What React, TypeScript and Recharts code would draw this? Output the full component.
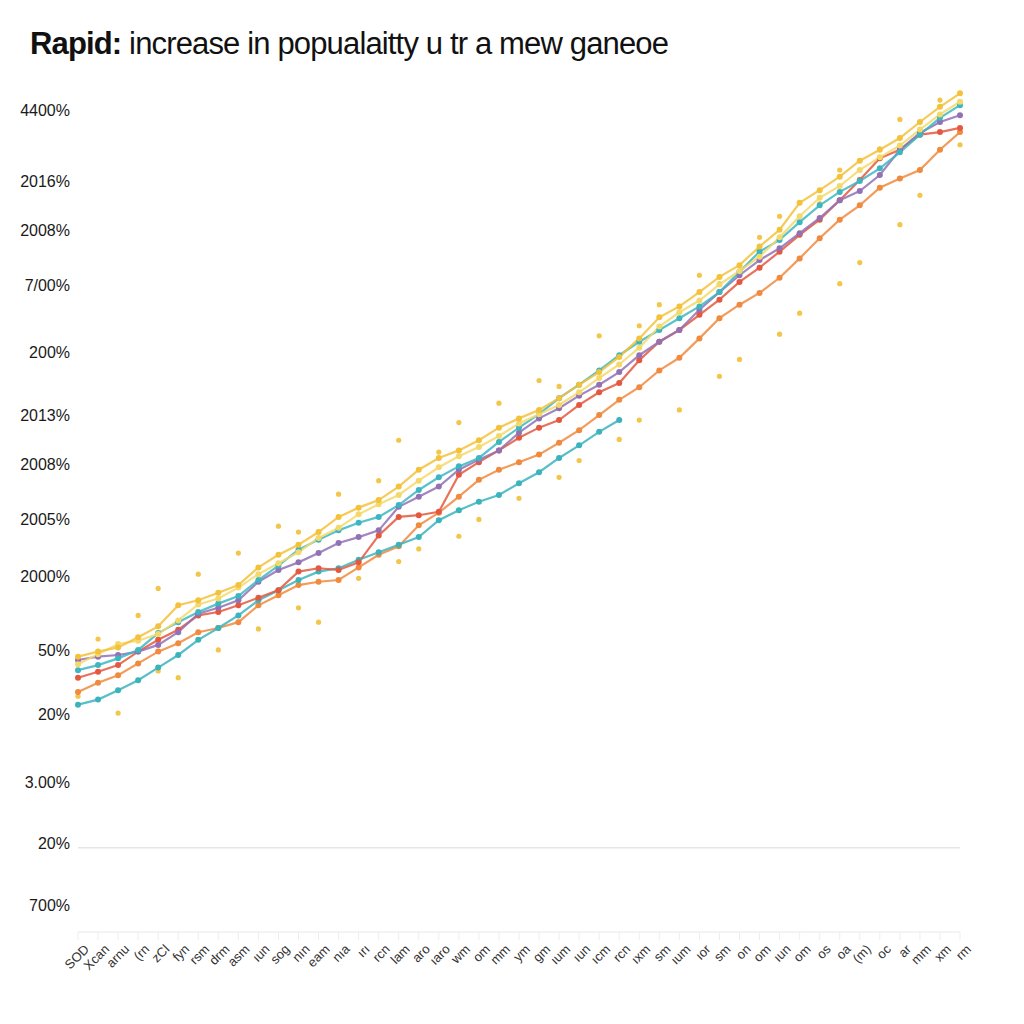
import React from "react";
import { LineChart, Line, XAxis, YAxis, ReferenceLine } from "recharts";

const titleBold = "Rapid:";
const titleRest = " increase in popualaitty u tr a mew ganeoe";

const xLabels = ["SOD","Xcan","arnu","(rn","zCl","fyn","rsm","drm","asm","ıun","sog","nın","eam","nıa","ırı","rcn","lam","aro","ıaro","wm","om","mm","ym","gm","ıum","ıun","ıcm","rcn","ıxm","sm","ıum","ıor","sm","on","om","ıun","om","os","oa","(m)","oc","ar","mm","xm","rm"];

const yTickValues = [97.6, 89.2, 83.3, 76.8, 68.9, 61.4, 55.5, 49.0, 42.3, 33.4, 25.8, 17.8, 10.5, 3.2];
const yTickLabels = ["4400%","2016%","2008%","7/00%","200%","2013%","2008%","2005%","2000%","50%","20%","3.00%","20%","700%"];

const gold = [32.7,33.3,33.8,35.0,36.3,38.8,39.4,40.3,41.2,43.3,44.8,46.0,47.5,49.3,50.4,51.3,52.9,54.9,56.3,57.2,58.4,59.9,61.0,62.0,63.4,65.0,66.5,68.3,70.5,73.0,74.3,76.0,77.8,79.2,81.4,83.4,86.6,88.1,89.7,91.6,92.9,94.3,96.2,98.0,99.6];
const paleYellow = [31.8,33.0,34.2,34.6,35.4,37.0,38.9,39.6,40.9,42.5,43.8,45.1,46.8,48.0,49.6,50.8,51.9,53.6,55.2,56.5,57.6,58.9,60.4,61.5,62.6,64.1,65.8,67.4,69.4,71.9,73.6,75.0,76.9,78.5,80.2,82.5,85.0,87.2,88.6,90.5,92.0,93.4,95.3,97.1,98.6];
const teal = [31.1,31.7,32.5,33.5,35.5,36.8,38.0,39.0,39.9,41.8,43.5,45.4,46.6,47.7,48.6,49.3,50.7,52.5,54.0,55.3,56.3,58.2,59.9,61.5,63.4,65.0,66.7,68.5,70.1,71.5,72.9,74.3,76.0,78.4,80.8,82.2,84.3,86.3,87.9,89.2,90.7,92.6,94.7,96.7,98.2];
const purple = [32.3,32.7,32.9,33.3,34.1,35.6,37.8,38.5,39.4,41.6,43.0,43.9,45.0,46.2,46.9,47.7,50.5,51.7,52.9,54.9,56.1,57.2,59.3,61.0,62.2,63.7,65.0,66.5,68.5,70.1,71.5,73.9,76.0,78.0,79.8,81.2,83.0,84.8,86.9,88.0,89.9,92.9,94.9,96.2,97.0];
const red = [30.2,30.9,31.7,33.3,34.7,35.9,37.6,38.0,38.8,39.7,40.6,42.8,43.2,43.0,43.9,47.1,49.3,49.5,49.9,54.3,55.8,57.2,58.7,59.9,60.8,62.6,64.1,65.2,67.9,70.1,71.5,73.3,75.1,77.2,78.9,80.8,82.8,84.6,86.9,89.3,91.9,92.9,94.7,95.0,95.5];
const orange = [28.5,29.6,30.5,31.9,33.3,34.3,35.6,36.1,36.8,38.8,40.0,41.2,41.6,41.8,43.3,44.8,45.8,48.3,49.8,51.7,53.7,54.9,55.8,56.7,58.1,59.6,61.4,63.2,64.7,66.7,68.2,70.5,72.9,74.5,75.9,77.7,80.0,82.4,84.6,86.3,88.4,89.5,90.5,92.9,95.0];
const teal2 = [27.0,27.6,28.7,29.9,31.4,32.9,34.7,36.1,37.6,39.4,40.6,41.8,42.8,43.2,44.2,45.1,46.0,46.9,48.9,50.1,51.1,51.9,53.3,54.6,56.3,57.8,59.4,60.8,null,null,null,null,null,null,null,null,null,null,null,null,null,null,null,null,null];
const dotsA = [null,34.8,null,37.6,40.8,null,42.5,null,45.0,null,48.2,47.5,null,52.0,null,53.6,58.4,null,57.0,60.5,null,62.8,null,65.5,64.8,null,70.8,null,72.0,74.5,null,78.0,77.0,null,82.5,85.0,null,86.5,90.5,null,93.0,96.5,null,98.8,null];
const dotsB = [28.0,null,26.0,null,31.0,30.2,null,33.5,null,36.0,null,38.5,36.8,null,42.0,null,44.0,45.5,null,47.0,49.0,null,51.5,null,54.0,56.0,null,58.5,60.8,null,62.0,null,66.0,68.0,null,71.0,73.5,null,77.0,79.5,null,84.0,87.5,null,93.5];

const data = xLabels.map((label, i) => ({
  idx: i,
  label,
  gold: gold[i],
  paleYellow: paleYellow[i],
  teal: teal[i],
  purple: purple[i],
  red: red[i],
  orange: orange[i],
  teal2: teal2[i],
  dotsA: dotsA[i],
  dotsB: dotsB[i],
}));

const FONT = "'Liberation Sans', Arial, sans-serif";

const XTick = (props: any) => {
  const { x, y, payload } = props;
  return (
    <g transform={`translate(${x + 12},${y + 8})`}>
      <text transform="rotate(-45)" textAnchor="end" fontSize={13} fill="#333" fontFamily={FONT}>
        {xLabels[payload.value]}
      </text>
    </g>
  );
};

const series = [
  { key: "orange", color: "#f08a3e" },
  { key: "teal2", color: "#3bb3bd" },
  { key: "red", color: "#e4583f" },
  { key: "purple", color: "#9271b5" },
  { key: "teal", color: "#3cb7c2" },
  { key: "paleYellow", color: "#f4d96a" },
  { key: "gold", color: "#f3c13a" },
];

export default function App() {
  return (
    <div style={{ position: "absolute", left: 0, top: 0, width: 1024, height: 1024, background: "#fff" }}>
      <div
        style={{
          position: "absolute",
          left: 30,
          top: 26,
          fontFamily: "'Liberation Sans', Arial, sans-serif",
          fontSize: 31,
          color: "#111",
          whiteSpace: "nowrap",
          letterSpacing: -0.85,
        }}
      >
        <span style={{ fontWeight: 700 }}>{titleBold}</span>
        <span>{titleRest}</span>
      </div>
      <LineChart
        width={1024}
        height={1024}
        data={data}
        margin={{ top: 90, right: 64, left: 8, bottom: 32 }}
      >
        <XAxis
          dataKey="idx"
          type="category"
          interval={0}
          height={60}
          tick={<XTick />}
          axisLine={{ stroke: "#e8e8e8" }}
          tickLine={{ stroke: "#eeeeee" }}
          tickSize={8}
        />
        <YAxis
          type="number"
          domain={[0, 100]}
          ticks={yTickValues}
          interval={0}
          width={70}
          axisLine={false}
          tickLine={false}
          tickFormatter={(v: number) => yTickLabels[yTickValues.indexOf(v)]}
          tick={{ fontSize: 16, fill: "#1a1a1a", fontFamily: FONT }}
        />
        <ReferenceLine y={10} stroke="#e6e6e6" strokeWidth={1.5} />
        <Line
          dataKey="dotsA"
          stroke="none"
          dot={{ r: 2.6, fill: "#f3c64a", stroke: "none" }}
          isAnimationActive={false}
        />
        <Line
          dataKey="dotsB"
          stroke="none"
          dot={{ r: 2.6, fill: "#f3c64a", stroke: "none" }}
          isAnimationActive={false}
        />
        {series.map((s) => (
          <Line
            key={s.key}
            dataKey={s.key}
            type="linear"
            stroke={s.color}
            strokeWidth={2.2}
            strokeOpacity={0.85}
            dot={{ r: 3, fill: s.color, stroke: "none" }}
            activeDot={false}
            isAnimationActive={false}
          />
        ))}
      </LineChart>
    </div>
  );
}
